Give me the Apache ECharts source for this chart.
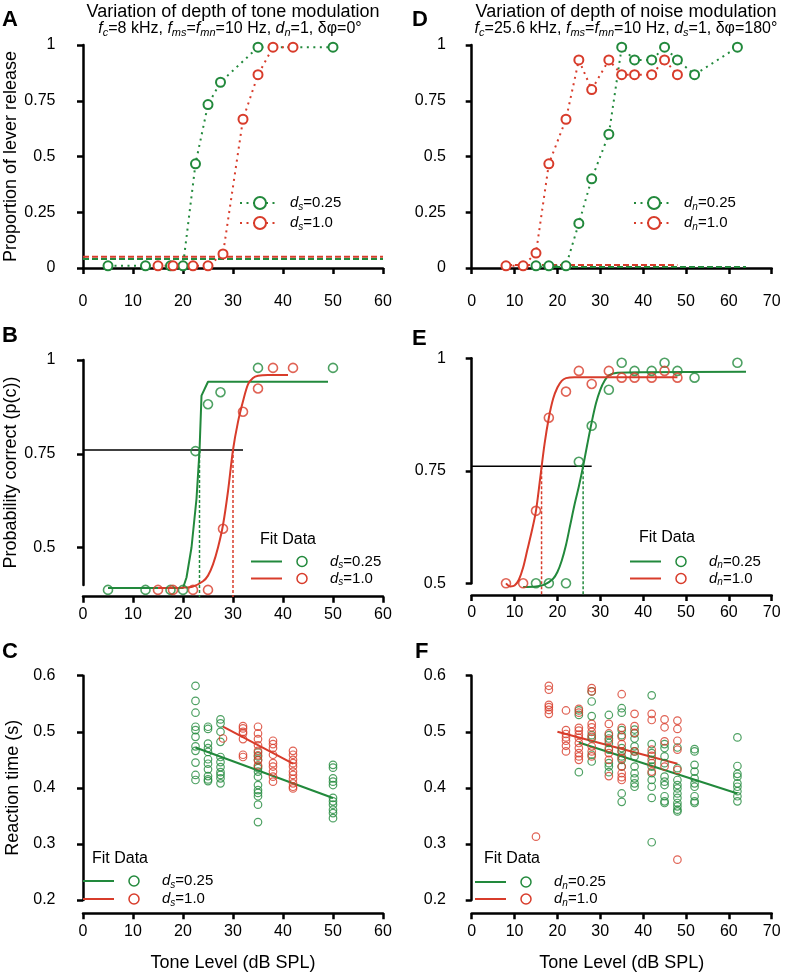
<!DOCTYPE html>
<html><head><meta charset="utf-8">
<script src="https://cdn.jsdelivr.net/npm/echarts@6/dist/echarts.min.js"></script>
<style>html,body{margin:0;padding:0;background:#fff}#c{width:792px;height:974px}</style>
</head><body><div id="c"></div>
<script>
const GREEN = '#22893c', RED = '#d83c2b';
const FONT = '"Liberation Sans", Arial, Helvetica, sans-serif';

// ---------- Panel A: proportion of lever release (tone modulation depth) ----------
const aGreenLevel = [5, 12.5, 17.5, 20, 22.5, 25, 27.5, 35, 50];
const aGreenProp  = [0.01, 0.01, 0.01, 0.01, 0.467, 0.733, 0.833, 0.99, 0.99];
const aRedLevel   = [15, 18, 22, 25, 28, 32, 35, 38, 42];
const aRedProp    = [0.01, 0.01, 0.01, 0.01, 0.063, 0.667, 0.867, 0.99, 0.99];
const aGreenChance = [[0, 0.04], [60, 0.04]];
const aRedChance   = [[0, 0.05], [60, 0.05]];

// ---------- Panel B: probability correct ----------
const bGreenPc = [0.387, 0.387, 0.387, 0.387, 0.757, 0.882, 0.914, 0.979, 0.979];
const bRedPc   = [0.387, 0.387, 0.387, 0.387, 0.55, 0.862, 0.924, 0.979, 0.979];
const bGreenFit = [[5,0.392],[20,0.392],[20.7,0.42],[21.7,0.5],[22.7,0.63],[23.3,0.757],[23.7,0.905],[25,0.942],[49,0.942]];
const bRedFit = [[15,0.392],[20,0.393],[22,0.396],[24,0.41],[25,0.425],[26,0.455],[27,0.5],[28,0.56],[29,0.65],[30,0.76],[31,0.835],[32,0.89],[33,0.935],[34,0.952],[35,0.958],[37,0.96],[41,0.96]];
const bThresholdLine = [[0, 0.76], [32, 0.76]];
const bGreenThresh = [[23.3, 0.76], [23.3, 0.368]];
const bRedThresh   = [[30, 0.76], [30, 0.368]];

// ---------- Panel C: reaction time ----------
const cGreenLevel = [22.5, 25, 27.5, 35, 50];
const cGreenRT = [
  [0.582,0.555,0.534,0.509,0.503,0.491,0.474,0.466,0.445,0.423,0.414],
  [0.509,0.505,0.479,0.471,0.464,0.451,0.443,0.433,0.421,0.415,0.412],
  [0.522,0.515,0.500,0.482,0.455,0.446,0.437,0.428,0.423,0.417,0.408],
  [0.463,0.456,0.450,0.438,0.435,0.429,0.420,0.405,0.396,0.391,0.385,0.370,0.339],
  [0.441,0.436,0.417,0.411,0.405,0.382,0.376,0.370,0.361,0.355,0.346]
];
const cRedLevel = [28, 32, 35, 38, 42];
const cRedRT = [
  [0.488],
  [0.510,0.506,0.500,0.497,0.487,0.459,0.455],
  [0.509,0.497,0.487,0.476,0.466,0.458,0.449,0.440],
  [0.484,0.478,0.471,0.459,0.444,0.438,0.429,0.420,0.411],
  [0.466,0.459,0.450,0.444,0.438,0.429,0.423,0.416,0.408,0.402,0.399]
];
const cGreenFit = [[22.5, 0.472], [50, 0.382]];
const cRedFit   = [[28, 0.509], [42, 0.443]];

// ---------- Panel D: proportion of lever release (noise modulation depth) ----------
const dGreenLevel = [15, 18, 22, 25, 28, 32, 35, 38, 42, 45, 48, 52, 62];
const dGreenProp  = [0.01, 0.01, 0.01, 0.2, 0.4, 0.6, 0.99, 0.933, 0.933, 0.99, 0.933, 0.867, 0.99];
const dRedLevel   = [8, 12, 15, 18, 22, 25, 28, 32, 35, 38, 42, 45, 48];
const dRedProp    = [0.01, 0.01, 0.067, 0.467, 0.667, 0.933, 0.8, 0.933, 0.867, 0.867, 0.867, 0.933, 0.867];
const dGreenChance = [[15, 0.004], [64, 0.004]];
const dRedChance   = [[8, 0.014], [48, 0.014]];

// ---------- Panel E: probability correct ----------
const eGreenPc = [0.5, 0.5, 0.5, 0.77, 0.85, 0.93, 0.99, 0.972, 0.972, 0.99, 0.972, 0.957, 0.99];
const eRedPc   = [0.5, 0.5, 0.661, 0.868, 0.926, 0.972, 0.943, 0.972, 0.957, 0.957, 0.957, 0.972, 0.957];
const eGreenFit = [[12,0.492],[15,0.493],[17,0.497],[19,0.51],[20,0.525],[21,0.55],[22,0.585],[23,0.63],[24,0.675],[25,0.715],[26,0.76],[27,0.81],[28,0.858],[29,0.9],[30,0.93],[31,0.95],[32,0.962],[34,0.968],[64,0.97]];
const eRedFit = [[8,0.5],[9,0.493],[10,0.495],[11,0.508],[12,0.535],[13,0.575],[14,0.615],[15,0.661],[16,0.735],[17,0.81],[18,0.868],[19,0.91],[20,0.935],[21,0.95],[22,0.956],[24,0.958],[48,0.958]];
const eThresholdLine = [[0, 0.76], [28, 0.76]];
const eGreenThresh = [[26, 0.76], [26, 0.474]];
const eRedThresh   = [[16.3, 0.76], [16.3, 0.474]];

// ---------- Panel F: reaction time ----------
const fGreenLevel = [25, 28, 32, 35, 38, 42, 45, 48, 52, 62];
const fGreenRT = [
  [0.538,0.530,0.428],
  [0.572,0.554,0.528,0.494,0.488,0.459,0.447],
  [0.530,0.494,0.488,0.480,0.468,0.444,0.438,0.428],
  [0.542,0.534,0.503,0.494,0.471,0.465,0.456,0.450,0.438,0.390,0.375],
  [0.504,0.497,0.488,0.474,0.465,0.456,0.438,0.426,0.417,0.408,0.402],
  [0.565,0.478,0.462,0.450,0.438,0.426,0.414,0.402,0.382,0.303],
  [0.478,0.471,0.456,0.444,0.420,0.411,0.405,0.385,0.376,0.373],
  [0.472,0.435,0.414,0.405,0.399,0.390,0.382,0.373,0.367,0.361,0.358],
  [0.469,0.465,0.441,0.429,0.417,0.408,0.402,0.385,0.376,0.373],
  [0.490,0.439,0.425,0.420,0.408,0.402,0.394,0.385,0.376]
];
const fRedLevel = [15, 18, 22, 25, 28, 32, 35, 38, 42, 45, 48];
const fRedRT = [
  [0.313],
  [0.582,0.575,0.548,0.544,0.539,0.532],
  [0.538,0.503,0.496,0.490,0.484,0.475,0.465],
  [0.541,0.534,0.507,0.502,0.495,0.489,0.480,0.471,0.462,0.456,0.450],
  [0.578,0.572,0.514,0.508,0.500,0.491,0.474,0.465,0.456],
  [0.514,0.497,0.485,0.471,0.462,0.450,0.421],
  [0.567,0.507,0.491,0.478,0.465,0.453,0.438,0.426,0.419,0.414],
  [0.532,0.510,0.498,0.465],
  [0.532,0.521,0.468,0.457,0.444,0.429],
  [0.522,0.508,0.483,0.438],
  [0.520,0.505,0.484,0.468,0.432,0.272]
];
const fGreenFit = [[25, 0.481], [62, 0.39]];
const fRedFit   = [[20, 0.5], [48, 0.443]];

// ---------- helpers ----------
const zip = (xs, ys) => xs.map((x, i) => [x, ys[i]]);
const cols = (levels, vals) => { const o = []; levels.forEach((x, i) => vals[i].forEach(v => o.push([x, v]))); return o; };

const grids = [
  {left: 83, top: 45, width: 300, height: 223},
  {left: 83, top: 360, width: 300, height: 225},
  {left: 83, top: 675.7, width: 300, height: 224.3},
  {left: 471.7, top: 45, width: 300, height: 223},
  {left: 471.7, top: 358.3, width: 300, height: 225},
  {left: 471.7, top: 675.7, width: 300, height: 224.3}
];
const xOff = [15.3, 11.7, 13.3, 15.3, 11.7, 13.3];
const yOff = [13.5, 13.5, 13.5, 11.7, 11.7, 11.7];
const xMax = [60, 60, 60, 70, 70, 70];
const axLine = {show: true, lineStyle: {color: '#000', width: 2.5}};
const axTick = {show: true, length: 6, lineStyle: {color: '#000', width: 2.5}};
const lab = {color: '#000', fontSize: 16, fontFamily: FONT};

const xAxis = grids.map((g, i) => ({
  type: 'value', gridIndex: i, min: 0, max: xMax[i], interval: 10, offset: xOff[i],
  axisLine: axLine, axisTick: axTick, splitLine: {show: false},
  axisLabel: Object.assign({margin: 10}, lab),
  name: (i === 2 || i === 5) ? 'Tone Level (dB SPL)' : '',
  nameLocation: 'middle', nameGap: 41,
  nameTextStyle: {color: '#000', fontSize: 18, fontFamily: FONT}
}));
const yCfg = [
  {min: 0, max: 1, interval: 0.25, name: 'Proportion of lever release'},
  {min: 0.4, max: 1, name: 'Probability correct (p(c))', custom: [0.5, 0.75, 1]},
  {min: 0.2, max: 0.6, interval: 0.1, name: 'Reaction time (s)'},
  {min: 0, max: 1, interval: 0.25, name: ''},
  {min: 0.5, max: 1, interval: 0.25, name: ''},
  {min: 0.2, max: 0.6, interval: 0.1, name: ''}
];
const yAxis = yCfg.map((c, i) => {
  const a = {
    type: 'value', gridIndex: i, min: c.min, max: c.max, offset: yOff[i],
    axisLine: axLine, axisTick: Object.assign({}, axTick), splitLine: {show: false},
    axisLabel: Object.assign({margin: 14}, lab),
    name: c.name, nameLocation: 'middle', nameGap: 47,
    nameTextStyle: {color: '#000', fontSize: 18, fontFamily: FONT}
  };
  if (c.interval) a.interval = c.interval;
  if (c.custom) { a.axisLabel.customValues = c.custom; a.axisTick.customValues = c.custom; }
  return a;
});

const series = [];
function dotted(i, data, color) {
  series.push({type: 'line', xAxisIndex: i, yAxisIndex: i, data, symbol: 'emptyCircle', symbolSize: 9,
    itemStyle: {color, borderWidth: 1.6}, lineStyle: {color, width: 2, type: [2, 4.5]}, z: 3, clip: false});
}
function dashed(i, data, color, w, dash) {
  series.push({type: 'line', xAxisIndex: i, yAxisIndex: i, data, symbol: 'none',
    lineStyle: {color, width: w || 2, type: dash || [5, 3]}, z: 2, clip: false});
}
function solid(i, data, color, w, smooth) {
  series.push({type: 'line', xAxisIndex: i, yAxisIndex: i, data, symbol: 'none', smooth: smooth || false,
    lineStyle: {color, width: w || 2}, z: 2, clip: false});
}
function scat(i, data, color, size, bw) {
  series.push({type: 'scatter', xAxisIndex: i, yAxisIndex: i, data, symbol: 'circle', symbolSize: size,
    itemStyle: {color: 'rgba(255,255,255,0)', borderColor: color, borderWidth: bw}, z: 3, clip: false});
}

// A
dashed(0, aRedChance, RED, 2, [6, 3]);
dashed(0, aGreenChance, GREEN, 2, [6, 3]);
dotted(0, zip(aGreenLevel, aGreenProp), GREEN);
dotted(0, zip(aRedLevel, aRedProp), RED);
// B
solid(1, bThresholdLine, '#000', 1.5);
dashed(1, bGreenThresh, GREEN, 1.5, [3, 2]);
dashed(1, bRedThresh, RED, 1.5, [3, 2]);
solid(1, bGreenFit, GREEN, 2);
solid(1, bRedFit, RED, 2, 0.3);
scat(1, zip(aGreenLevel, bGreenPc), GREEN, 9, 1.6);
scat(1, zip(aRedLevel, bRedPc), RED, 9, 1.6);
// C
scat(2, cols(cGreenLevel, cGreenRT), GREEN, 7.5, 1.2);
scat(2, cols(cRedLevel, cRedRT), RED, 7.5, 1.2);
solid(2, cGreenFit, GREEN, 2);
solid(2, cRedFit, RED, 2);
// D
dashed(3, dRedChance, RED, 2, [6, 3]);
dashed(3, dGreenChance, GREEN, 2, [6, 3]);
dotted(3, zip(dGreenLevel, dGreenProp), GREEN);
dotted(3, zip(dRedLevel, dRedProp), RED);
// E
solid(4, eThresholdLine, '#000', 1.5);
dashed(4, eGreenThresh, GREEN, 1.5, [3, 2]);
dashed(4, eRedThresh, RED, 1.5, [3, 2]);
solid(4, eGreenFit, GREEN, 2, 0.3);
solid(4, eRedFit, RED, 2, 0.3);
scat(4, zip(dGreenLevel, eGreenPc), GREEN, 9, 1.6);
scat(4, zip(dRedLevel, eRedPc), RED, 9, 1.6);
// F
scat(5, cols(fGreenLevel, fGreenRT), GREEN, 7.5, 1.2);
scat(5, cols(fRedLevel, fRedRT), RED, 7.5, 1.2);
solid(5, fGreenFit, GREEN, 2);
solid(5, fRedFit, RED, 2);

// ---------- text & legends (graphic) ----------
function mkRich(fs) {
  return {
    n: {fontSize: fs, fontFamily: FONT, lineHeight: fs + 3, color: '#000'},
    i: {fontSize: fs, fontFamily: FONT, fontStyle: 'italic', lineHeight: fs + 3, color: '#000'},
    s: {fontSize: Math.round(fs * 0.67), fontFamily: FONT, fontStyle: 'italic', lineHeight: 8, verticalAlign: 'bottom', color: '#000'}
  };
}
const richLeg = mkRich(15), richSub = mkRich(16);
const g = [];
function txt(x, y, text, opts) {
  g.push({type: 'text', x, y, z: 10, style: Object.assign({text, fill: '#000', font: '15px ' + FONT, align: 'left', verticalAlign: 'middle'}, opts || {})});
}
function rich(x, y, text, align, r) {
  g.push({type: 'text', x, y, z: 10, style: {text, rich: r || richLeg, align: align || 'left', verticalAlign: 'middle'}});
}
// panel letters
[['A', 2, 20], ['B', 2, 336], ['C', 2, 652], ['D', 412, 20], ['E', 412, 339], ['F', 415, 652]].forEach(([t, x, y]) =>
  txt(x, y, t, {font: 'bold 22px ' + FONT}));
// titles
txt(233, 12, 'Variation of depth of tone modulation', {font: '18px ' + FONT, align: 'center'});
rich(230, 29, '{i|f}{s|c}{n|=8 kHz, }{i|f}{s|ms}{n|=}{i|f}{s|mn}{n|=10 Hz, }{i|d}{s|n}{n|=1, δφ=0°}', 'center', richSub);
txt(626, 12, 'Variation of depth of noise modulation', {font: '18px ' + FONT, align: 'center'});
rich(626, 29, '{i|f}{s|c}{n|=25.6 kHz, }{i|f}{s|ms}{n|=}{i|f}{s|mn}{n|=10 Hz, }{i|d}{s|s}{n|=1, δφ=180°}', 'center', richSub);

function legDotted(x0, y, color, label) {
  g.push({type: 'line', z: 10, shape: {x1: x0, y1: y, x2: x0 + 38, y2: y}, style: {stroke: color, lineWidth: 2, lineDash: [2, 4.5]}});
  g.push({type: 'circle', z: 11, shape: {cx: x0 + 20, cy: y, r: 6}, style: {stroke: color, lineWidth: 2, fill: '#fff'}});
  rich(x0 + 50, y, label);
}
legDotted(240, 203, GREEN, '{i|d}{s|s}{n|=0.25}');
legDotted(240, 223, RED, '{i|d}{s|s}{n|=1.0}');
legDotted(634, 203, GREEN, '{i|d}{s|n}{n|=0.25}');
legDotted(634, 223, RED, '{i|d}{s|n}{n|=1.0}');

function legFit(x0, yT, y1, y2, sub) {
  txt(x0 + 9, yT, 'Fit Data', {font: '16px ' + FONT});
  [[y1, GREEN, '0.25'], [y2, RED, '1.0']].forEach(([y, c, v]) => {
    g.push({type: 'line', z: 10, shape: {x1: x0, y1: y, x2: x0 + 31, y2: y}, style: {stroke: c, lineWidth: 2}});
    g.push({type: 'circle', z: 10, shape: {cx: x0 + 51, cy: y, r: 5}, style: {stroke: c, lineWidth: 1.5, fill: 'none'}});
    rich(x0 + 79, y, '{i|d}{s|' + sub + '}{n|=' + v + '}');
  });
}
legFit(251, 540, 561.5, 578.5, 's');
legFit(630, 538, 561.5, 578.5, 'n');
legFit(83, 859, 881, 899, 's');
legFit(475, 859, 882, 899, 'n');

const chart = echarts.init(document.getElementById('c'), null, {renderer: 'canvas'});
chart.setOption({
  backgroundColor: '#fff',
  animation: false,
  textStyle: {fontFamily: FONT},
  grid: grids,
  xAxis, yAxis, series,
  graphic: g
});
</script></body></html>
